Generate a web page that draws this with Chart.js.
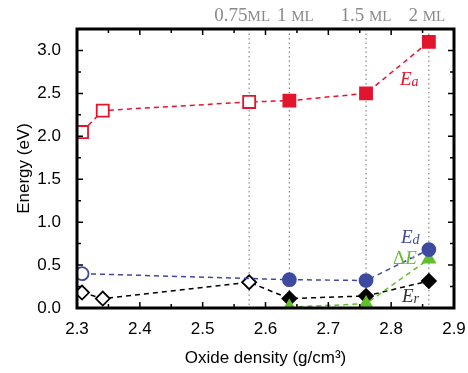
<!DOCTYPE html>
<html>
<head>
<meta charset="utf-8">
<script src="https://cdn.jsdelivr.net/npm/chart.js@4"></script>
<style>
  html, body { margin: 0; padding: 0; background: #fff; }
  #wrap { width: 468px; height: 373px; }
</style>
</head>
<body>
<div id="wrap"><canvas id="c" width="468" height="373"></canvas></div>
<script>
// oxide density (g/cm3) and energies (eV)
const densEa = [2.308, 2.341, 2.574, 2.638, 2.760, 2.860];
const valEa  = [2.05, 2.30, 2.40, 2.415, 2.50, 3.10];
const openEa = [true, true, true, false, false, false];

const densEd = [2.308, 2.638, 2.760, 2.860];
const valEd  = [0.40, 0.33, 0.32, 0.68];
const openEd = [true, false, false, false];

const densEr = [2.308, 2.341, 2.574, 2.638, 2.760, 2.860];
const valEr  = [0.18, 0.11, 0.30, 0.11, 0.14, 0.315];
const openEr = [true, true, true, false, false, false];

const densDE = [2.638, 2.760, 2.860];
const valDE  = [0.01, 0.05, 0.57];

// coverage markers along the top
const coverageDens = [2.574, 2.638, 2.760, 2.860];
const coverageNum = ['0.75', '1 ', '1.5 ', '2 '];

const RED = 'rgb(226,20,46)';
const BLUE = 'rgb(62,74,160)';
const GREEN = 'rgb(98,190,42)';
const BLACK = '#000';

function pts(xs, ys) {
  return xs.map((x, i) => ({ x: x, y: ys[i] }));
}

function series(label, xs, ys, open, color, style, r) {
  return {
    label: label,
    data: pts(xs, ys),
    showLine: true,
    borderColor: color,
    borderWidth: 1.5,
    borderDash: [5, 4],
    pointStyle: style,
    pointRadius: r,
    pointBorderWidth: 1.8,
    pointBorderColor: color,
    pointBackgroundColor: xs.map((_, i) => (open && open[i]) ? '#fff' : color),
  };
}

const isTenth = v => Math.abs(v * 10 - Math.round(v * 10)) < 1e-6;
const isHalf = v => Math.abs(v * 2 - Math.round(v * 2)) < 1e-6;

// small nudges so the top labels don't collide
const labelNudge = [-7, 6, 0, -2];

const decor = {
  id: 'decor',
  beforeDatasetsDraw(chart) {
    const { ctx, chartArea: a, scales } = chart;
    ctx.save();
    ctx.strokeStyle = '#888';
    ctx.lineWidth = 1.2;
    ctx.setLineDash([1.5, 3]);
    coverageDens.forEach(d => {
      const x = scales.x.getPixelForValue(d);
      ctx.beginPath();
      ctx.moveTo(x, a.top);
      ctx.lineTo(x, a.bottom);
      ctx.stroke();
    });
    ctx.restore();
  },
  afterDraw(chart) {
    const { ctx, chartArea: a, scales } = chart;
    ctx.save();
    // ticks pointing inward on all four sides
    ctx.strokeStyle = '#000';
    ctx.lineWidth = 1.5;
    scales.x.ticks.forEach(t => {
      const x = scales.x.getPixelForValue(t.value);
      const len = isTenth(t.value) ? 6 : 4;
      ctx.beginPath();
      ctx.moveTo(x, a.bottom); ctx.lineTo(x, a.bottom - len);
      ctx.moveTo(x, a.top); ctx.lineTo(x, a.top + len);
      ctx.stroke();
    });
    scales.y.ticks.forEach(t => {
      const y = scales.y.getPixelForValue(t.value);
      const len = isHalf(t.value) ? 6 : 4;
      ctx.beginPath();
      ctx.moveTo(a.left, y); ctx.lineTo(a.left + len, y);
      ctx.moveTo(a.right, y); ctx.lineTo(a.right - len, y);
      ctx.stroke();
    });
    // frame
    ctx.lineWidth = 3;
    ctx.strokeRect(a.left, a.top, a.right - a.left, a.bottom - a.top);

    // coverage labels
    ctx.fillStyle = '#8a8a8a';
    ctx.textBaseline = 'alphabetic';
    ctx.textAlign = 'left';
    coverageDens.forEach((d, i) => {
      const x = scales.x.getPixelForValue(d) + labelNudge[i];
      ctx.font = '19px "Liberation Serif"';
      const w1 = ctx.measureText(coverageNum[i]).width;
      ctx.font = '15px "Liberation Serif"';
      const w2 = ctx.measureText('ML').width;
      const x0 = x - (w1 + w2) / 2;
      ctx.font = '19px "Liberation Serif"';
      ctx.fillText(coverageNum[i], x0, 21);
      ctx.font = '15px "Liberation Serif"';
      ctx.fillText('ML', x0 + w1, 21);
    });

    // curve labels
    function label(main, sub, color, x, y) {
      ctx.fillStyle = color;
      ctx.font = 'italic 19px "Liberation Serif"';
      ctx.fillText(main, x, y);
      const w = ctx.measureText(main).width;
      ctx.font = 'italic 14px "Liberation Serif"';
      if (sub) ctx.fillText(sub, x + w, y + 1);
    }
    label('E', 'a', RED, 400, 85);
    label('E', 'd', BLUE, 401, 243);
    ctx.fillStyle = GREEN;
    ctx.font = '19px "Liberation Serif"';
    ctx.fillText('\u0394', 393, 264);
    const wd = ctx.measureText('\u0394').width;
    ctx.font = 'italic 19px "Liberation Serif"';
    ctx.fillText('E', 393 + wd, 264);
    label('E', 'r', '#333', 402, 302);
    ctx.restore();
  }
};

new Chart(document.getElementById('c'), {
  type: 'scatter',
  data: {
    datasets: [
      series('Ea', densEa, valEa, openEa, RED, 'rect', 8.5),
      series('Ed', densEd, valEd, openEd, BLUE, 'circle', 6.5),
      series('\u0394E', densDE, valDE, null, GREEN, 'triangle', 7),
      series('Er', densEr, valEr, openEr, BLACK, 'rectRot', 7),
    ]
  },
  options: {
    responsive: false,
    animation: false,
    layout: { padding: { left: 0, top: 29, right: 14, bottom: 0 } },
    plugins: { legend: { display: false }, tooltip: { enabled: false } },
    scales: {
      x: {
        type: 'linear',
        min: 2.3, max: 2.9,
        grid: { display: false },
        border: { display: false },
        afterFit: s => { s.height = 65; s.paddingLeft = 0; s.paddingRight = 0; },
        ticks: {
          stepSize: 0.05,
          autoSkip: false,
          maxRotation: 0,
          padding: 3,
          color: '#000',
          font: { family: '"Liberation Sans"', size: 17 },
          callback: v => isTenth(v) ? v.toFixed(1) : '',
        },
        title: {
          display: true,
          text: 'Oxide density (g/cm\u00b3)',
          color: '#000',
          padding: { top: 8 },
          font: { family: '"Liberation Sans"', size: 17 },
        },
      },
      y: {
        min: 0, max: 3.25,
        grid: { display: false },
        border: { display: false },
        afterFit: s => { s.width = 77; s.paddingTop = 0; s.paddingBottom = 0; },
        ticks: {
          stepSize: 0.25,
          autoSkip: false,
          padding: 8,
          color: '#000',
          font: { family: '"Liberation Sans"', size: 17 },
          callback: v => isHalf(v) ? v.toFixed(1) : '',
        },
        title: {
          display: true,
          text: 'Energy (eV)',
          color: '#000',
          padding: { top: 14, bottom: 0 },
          font: { family: '"Liberation Sans"', size: 17 },
        },
      },
    },
  },
  plugins: [decor],
});
</script>
</body>
</html>
